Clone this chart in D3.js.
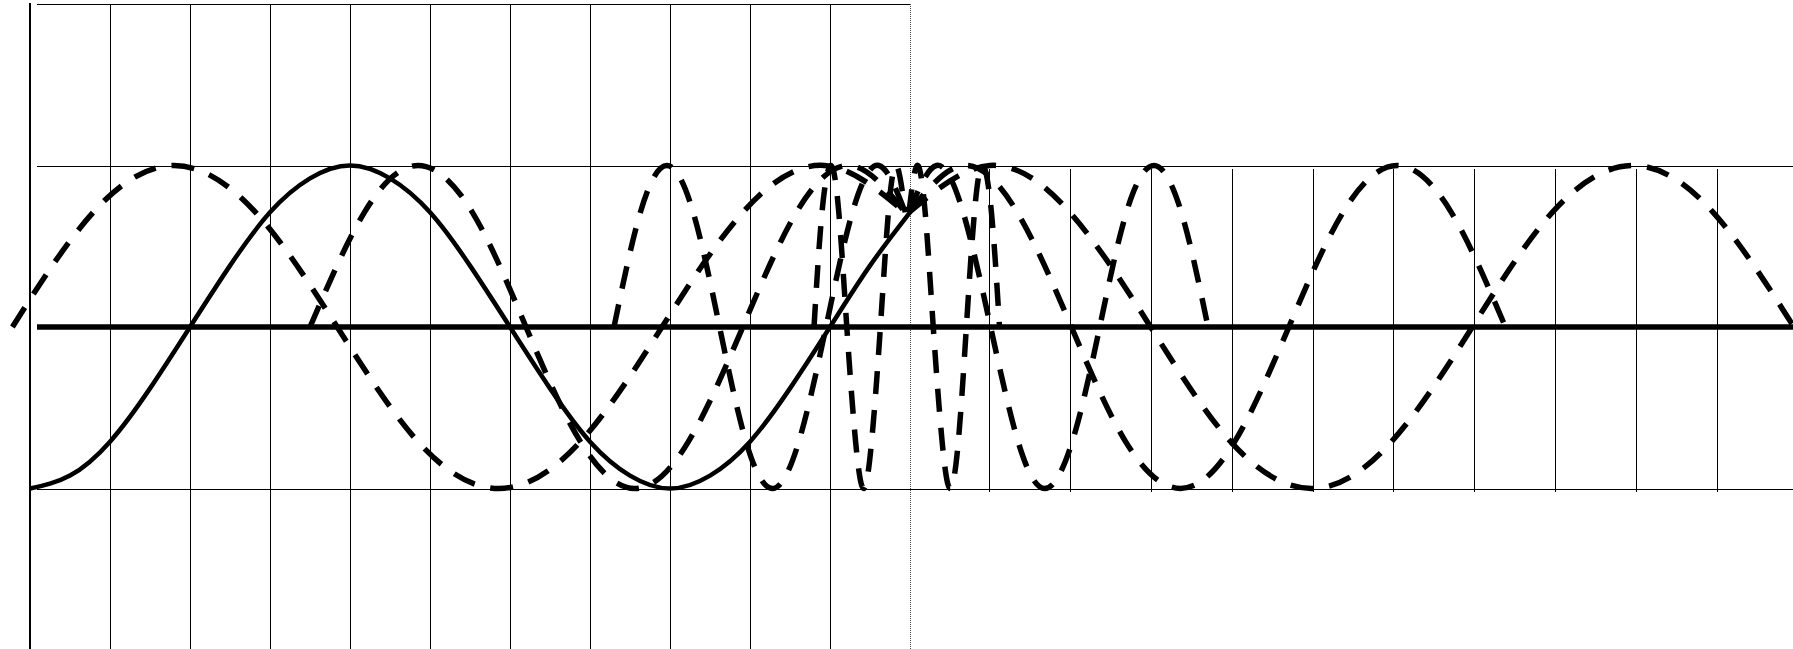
<!DOCTYPE html>
<html>
<head>
<meta charset="utf-8">
<script src="https://cdn.jsdelivr.net/npm/d3@7"></script>
<style>
  html, body { margin: 0; padding: 0; background: #fff; }
  svg { display: block; }
</style>
</head>
<body>
<svg id="chart" width="1793" height="649"></svg>
<script>
// ---- gridline positions (data units) ----
const leftColumns = [1, 2, 3, 4, 5, 6, 7, 8, 9, 10];
const rightColumns = [1, 2, 3, 4, 5, 6, 7, 8, 9, 10];
const leftLevels = [2, 1, -1, -2];

// ---- solid reference wave (left panel units) ----
const solidX = [0, 0.5, 1, 1.5, 2, 2.5, 3, 3.5, 4, 4.5, 5, 5.5, 6, 6.5, 7, 7.5, 8, 8.5, 9, 9.5, 10, 10.5, 11];
const solidY = [-1, -0.92, -0.71, -0.38, 0, 0.38, 0.71, 0.92, 1, 0.92, 0.71, 0.38, 0, -0.38, -0.71, -0.92, -1, -0.92, -0.71, -0.38, 0, 0.38, 0.71];

// ---- dashed waves, left panel (compressed toward the centre) ----
const wave1X = [-0.22, 0.79, 1.80, 2.82, 3.84, 4.85, 5.86, 6.88, 7.90, 8.91, 9.93, 10.94];
const wave1Y = [0, 0.71, 1, 0.71, 0, -0.71, -1, -0.71, 0, 0.71, 1, 0.71];
const wave2X = [3.50, 4.18, 4.85, 5.53, 6.20, 6.88, 7.56, 8.23, 8.91, 9.58, 10.26, 10.94];
const wave2Y = [0, 0.71, 1, 0.71, 0, -0.71, -1, -0.71, 0, 0.71, 1, 0.71];
const wave3X = [7.30, 7.63, 7.96, 8.29, 8.62, 8.95, 9.28, 9.61, 9.95, 10.28, 10.61, 10.94];
const wave3Y = [0, 0.71, 1, 0.71, 0, -0.71, -1, -0.71, 0, 0.71, 1, 0.71];
const wave4X = [9.80, 9.90, 10.01, 10.11, 10.21, 10.32, 10.42, 10.52, 10.63, 10.73, 10.83, 10.94];
const wave4Y = [0, 0.71, 1, 0.71, 0, -0.71, -1, -0.71, 0, 0.71, 1, 0.71];

// ---- dashed waves, right panel (stretching away from the centre) ----
const waveAX = [0, 1.00, 1.99, 2.99, 3.98, 4.98, 5.97, 6.97, 7.96, 8.96, 9.95, 10.95];
const waveAY = [0.71, 1, 0.71, 0, -0.71, -1, -0.71, 0, 0.71, 1, 0.71, 0];
const waveBX = [0, 0.67, 1.34, 2.01, 2.68, 3.36, 4.03, 4.70, 5.37, 6.04, 6.71, 7.38];
const waveBY = [0.71, 1, 0.71, 0, -0.71, -1, -0.71, 0, 0.71, 1, 0.71, 0];
const waveCX = [0, 0.34, 0.67, 1.01, 1.35, 1.68, 2.02, 2.36, 2.69, 3.03, 3.37, 3.70];
const waveCY = [0.71, 1, 0.71, 0, -0.71, -1, -0.71, 0, 0.71, 1, 0.71, 0];
const waveDX = [0, 0.10, 0.20, 0.30, 0.41, 0.51, 0.61, 0.71, 0.81, 0.91, 1.02, 1.12];
const waveDY = [0.71, 1, 0.71, 0, -0.71, -1, -0.71, 0, 0.71, 1, 0.71, 0];

const svg = d3.select("#chart");

// left panel: 11 columns, -2..2 vertically; right panel: 11 columns, -1..1
const xL = d3.scaleLinear().domain([0, 11]).range([30, 910]);
const yL = d3.scaleLinear().domain([-2, 2]).range([650, 4]);
const xR = d3.scaleLinear().domain([0, 11]).range([909, 1798]);
const yR = d3.scaleLinear().domain([-1, 1]).range([488.5, 165.5]);

const grid = svg.append("g").attr("stroke", "#000").attr("stroke-width", 1).attr("shape-rendering", "crispEdges");

// left panel vertical gridlines
grid.selectAll("line.lv").data(leftColumns).join("line")
  .attr("x1", d => xL(d)).attr("x2", d => xL(d))
  .attr("y1", yL(2)).attr("y2", 649);

// left value axis
grid.append("line")
  .attr("x1", xL(0)).attr("x2", xL(0))
  .attr("y1", yL(2) - 1).attr("y2", 649)
  .attr("stroke-width", 1.5);

// dotted right border of the left panel
grid.append("line")
  .attr("x1", xL(11)).attr("x2", xL(11))
  .attr("y1", yL(2)).attr("y2", 649)
  .attr("stroke", "#444")
  .attr("stroke-dasharray", "1,1");

// left panel horizontal gridlines
grid.selectAll("line.lh").data(leftLevels).join("line")
  .attr("x1", 37)
  .attr("x2", d => Math.abs(d) === 2 ? xL(11) : 1793)
  .attr("y1", d => Math.round(yL(d)) + 0.5).attr("y2", d => Math.round(yL(d)) + 0.5)
  .attr("stroke", d => d === -2 ? "#666" : "#000");

// right panel vertical gridlines
grid.selectAll("line.rv").data(rightColumns).join("line")
  .attr("x1", d => xR(d)).attr("x2", d => xR(d))
  .attr("y1", yR(1) + 3).attr("y2", yR(-1) + 3);

// thick zero line across both panels
svg.append("line")
  .attr("x1", 37).attr("x2", 1793)
  .attr("y1", yL(0)).attr("y2", yL(0))
  .attr("stroke", "#000").attr("stroke-width", 5.5);

const line = d3.line().curve(d3.curveNatural);

function drawDashed(xs, ys, xs2, ys2) {
  const pts = xs.map((x, i) => [xs2(x), ys2(ys[i])]);
  svg.append("path")
    .attr("d", line(pts))
    .attr("fill", "none")
    .attr("stroke", "#000")
    .attr("stroke-width", 5.5)
    .attr("stroke-linecap", "butt")
    .attr("stroke-dasharray", "23,16");
}

drawDashed(wave1X, wave1Y, xL, yL);
drawDashed(wave2X, wave2Y, xL, yL);
drawDashed(wave3X, wave3Y, xL, yL);
drawDashed(wave4X, wave4Y, xL, yL);

drawDashed(waveAX, waveAY, xR, yR);
drawDashed(waveBX, waveBY, xR, yR);
drawDashed(waveCX, waveCY, xR, yR);
drawDashed(waveDX, waveDY, xR, yR);

// solid reference wave on top
svg.append("path")
  .attr("d", line(solidX.map((x, i) => [xL(x), yL(solidY[i])])))
  .attr("fill", "none")
  .attr("stroke", "#000")
  .attr("stroke-width", 4.5)
  .attr("stroke-linecap", "butt");
</script>
</body>
</html>
